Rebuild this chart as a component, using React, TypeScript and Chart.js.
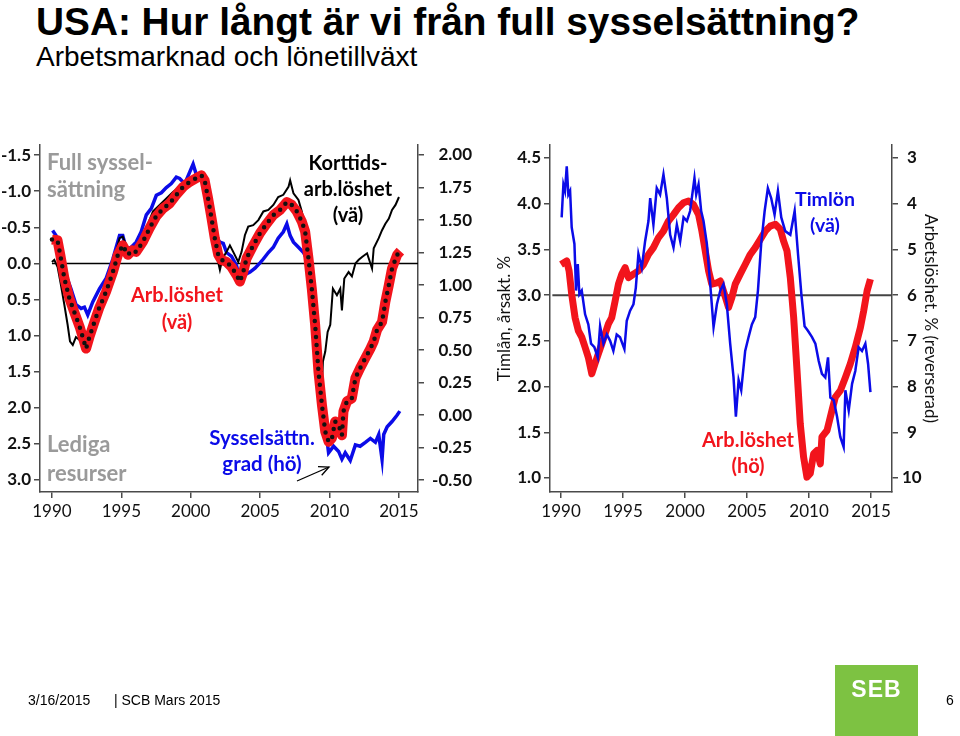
import React, { useEffect, useRef } from "react";
import { Chart, registerables } from "chart.js";

Chart.register(...registerables);

// ---------------- Left panel data ----------------
const gapYears = [1990.0, 1990.4, 1990.6, 1990.9, 1991.25, 1991.6, 1992.0, 1992.46, 1992.7, 1993.06, 1993.4, 1993.9, 1994.39, 1994.75, 1995.1, 1995.47, 1995.8, 1996.07, 1996.55, 1997.04, 1997.5, 1998.0, 1998.48, 1998.96, 1999.45, 1999.93, 2000.4, 2000.77, 2001.0, 2001.25, 2001.5, 2001.73, 2001.98, 2002.2, 2002.58, 2002.94, 2003.3, 2003.54, 2003.78, 2004.02, 2004.5, 2004.99, 2005.47, 2005.95, 2006.43, 2006.92, 2007.28, 2007.64, 2008.0, 2008.24, 2008.48, 2008.72, 2008.96, 2009.2, 2009.45, 2009.69, 2009.93, 2010.17, 2010.4, 2010.65, 2010.89, 2011.0, 2011.25, 2011.6, 2011.86, 2012.2, 2012.58, 2012.94, 2013.18, 2013.42, 2013.78, 2014.02, 2014.27, 2014.5, 2014.87, 2015.1];
const gapValues = [-0.33, -0.32, -0.12, 0.21, 0.48, 0.67, 0.88, 1.18, 1.02, 0.81, 0.62, 0.39, 0.12, -0.12, -0.25, -0.12, -0.18, -0.16, -0.30, -0.49, -0.65, -0.76, -0.83, -0.95, -1.06, -1.13, -1.18, -1.22, -1.15, -0.90, -0.62, -0.35, -0.12, -0.05, -0.02, 0.05, 0.16, 0.25, 0.12, -0.07, -0.25, -0.42, -0.55, -0.67, -0.74, -0.85, -0.81, -0.72, -0.58, -0.44, -0.07, 0.35, 0.85, 1.50, 1.96, 2.33, 2.47, 2.42, 2.19, 2.24, 2.38, 2.05, 1.91, 1.87, 1.59, 1.45, 1.31, 1.18, 1.08, 0.92, 0.81, 0.53, 0.30, 0.07, -0.12, -0.17];

const shortYears = [1990.0, 1990.17, 1990.41, 1990.65, 1990.9, 1991.13, 1991.3, 1991.5, 1991.73, 1991.98, 1992.34, 1992.58, 1992.94, 1993.3, 1993.66, 1994.14, 1994.5, 1994.87, 1995.1, 1995.35, 1995.71, 1996.07, 1996.43, 1996.8, 1997.28, 1997.76, 1998.24, 1998.72, 1999.2, 1999.69, 2000.17, 2000.65, 2001.0, 2001.25, 2001.61, 2001.86, 2002.1, 2002.29, 2002.58, 2002.82, 2003.06, 2003.42, 2003.66, 2003.9, 2004.14, 2004.5, 2004.87, 2005.23, 2005.59, 2005.95, 2006.3, 2006.67, 2007.04, 2007.16, 2007.4, 2007.76, 2008.0, 2008.24, 2008.48, 2008.72, 2008.96, 2009.2, 2009.4, 2009.52, 2009.69, 2009.86, 2010.05, 2010.24, 2010.53, 2010.77, 2010.89, 2011.06, 2011.37, 2011.61, 2011.86, 2012.1, 2012.34, 2012.7, 2013.06, 2013.18, 2013.54, 2013.78, 2014.02, 2014.27, 2014.5, 2014.75, 2015.0];
const shortValues = [-0.02, -0.05, 0.05, 0.30, 0.58, 0.85, 1.08, 1.13, 1.02, 1.06, 1.08, 1.04, 0.81, 0.65, 0.44, 0.18, -0.07, -0.35, -0.37, -0.25, -0.16, -0.21, -0.35, -0.49, -0.72, -0.81, -0.90, -0.99, -1.06, -1.13, -1.18, -1.22, -1.18, -0.90, -0.49, -0.12, 0.09, -0.07, -0.16, -0.25, -0.16, -0.02, -0.16, -0.39, -0.51, -0.53, -0.60, -0.72, -0.74, -0.81, -0.92, -0.95, -1.06, -1.15, -0.97, -0.88, -0.72, -0.49, -0.16, 0.35, 0.95, 1.50, 1.92, 1.36, 1.22, 0.95, 0.85, 0.35, 0.44, 0.35, 0.65, 0.21, 0.12, 0.18, 0.00, -0.05, -0.09, -0.14, 0.07, -0.21, -0.35, -0.46, -0.55, -0.62, -0.74, -0.81, -0.92];

const empYears = [1990.05, 1990.3, 1990.65, 1991.0, 1991.37, 1991.73, 1992.1, 1992.34, 1992.58, 1992.94, 1993.42, 1993.9, 1994.39, 1994.87, 1995.1, 1995.35, 1995.71, 1996.07, 1996.43, 1996.8, 1997.16, 1997.52, 1997.88, 1998.24, 1998.6, 1998.96, 1999.2, 1999.57, 1999.93, 2000.17, 2000.4, 2000.77, 2001.13, 2001.37, 2001.61, 2001.86, 2002.1, 2002.34, 2002.58, 2002.94, 2003.3, 2003.54, 2003.9, 2004.27, 2004.63, 2004.99, 2005.23, 2005.59, 2005.95, 2006.3, 2006.67, 2006.92, 2007.16, 2007.4, 2007.76, 2008.12, 2008.36, 2008.72, 2009.08, 2009.45, 2009.8, 2009.93, 2010.29, 2010.65, 2010.89, 2011.13, 2011.49, 2011.86, 2012.2, 2012.58, 2012.94, 2013.3, 2013.54, 2013.78, 2013.9, 2014.15, 2014.5, 2014.87, 2015.06];
const empValues = [1.42, 1.38, 1.23, 1.08, 0.97, 0.85, 0.82, 0.83, 0.77, 0.87, 0.97, 1.05, 1.20, 1.38, 1.38, 1.28, 1.29, 1.33, 1.41, 1.54, 1.59, 1.69, 1.71, 1.75, 1.78, 1.83, 1.82, 1.78, 1.87, 1.93, 1.85, 1.84, 1.79, 1.64, 1.48, 1.36, 1.33, 1.32, 1.25, 1.22, 1.15, 1.04, 1.08, 1.10, 1.13, 1.17, 1.20, 1.25, 1.29, 1.36, 1.41, 1.47, 1.38, 1.33, 1.29, 1.25, 1.20, 0.97, 0.54, 0.13, -0.18, -0.29, -0.24, -0.28, -0.34, -0.29, -0.35, -0.23, -0.24, -0.21, -0.18, -0.21, -0.15, -0.34, -0.15, -0.09, -0.05, 0.00, 0.03];

const zeroLineYears = [1990, 2016.37];
const zeroLineValues = [0, 0];

const leftTicksL = [-1.5, -1.0, -0.5, 0, 0.5, 1.0, 1.5, 2.0, 2.5, 3.0];
const leftTicksR = [2.0, 1.75, 1.5, 1.25, 1.0, 0.75, 0.5, 0.25, 0, -0.25, -0.5];
const yearTicks = [1990, 1995, 2000, 2005, 2010, 2015];

// ---------------- Right panel data ----------------
const wageYears = [1990.05, 1990.19, 1990.32, 1990.46, 1990.59, 1990.73, 1990.86, 1991.08, 1991.21, 1991.35, 1991.48, 1991.67, 1991.94, 1992.2, 1992.42, 1992.69, 1992.96, 1993.15, 1993.42, 1993.69, 1993.96, 1994.22, 1994.49, 1994.76, 1995.11, 1995.3, 1995.57, 1995.84, 1996.03, 1996.24, 1996.51, 1996.78, 1997.05, 1997.19, 1997.45, 1997.72, 1997.99, 1998.26, 1998.53, 1998.8, 1999.07, 1999.34, 1999.61, 1999.88, 2000.15, 2000.41, 2000.76, 2000.9, 2001.09, 2001.3, 2001.49, 2001.76, 2002.03, 2002.3, 2002.57, 2002.84, 2003.1, 2003.37, 2003.64, 2003.91, 2004.1, 2004.32, 2004.53, 2004.85, 2005.12, 2005.39, 2005.66, 2005.88, 2006.14, 2006.42, 2006.68, 2006.95, 2007.22, 2007.49, 2007.76, 2008.08, 2008.49, 2008.84, 2009.11, 2009.38, 2009.64, 2009.91, 2010.24, 2010.51, 2010.78, 2011.04, 2011.31, 2011.53, 2011.72, 2011.99, 2012.26, 2012.52, 2012.79, 2012.93, 2013.2, 2013.47, 2013.73, 2014.0, 2014.27, 2014.54, 2014.76, 2014.95];
const wageValues = [3.85, 4.21, 4.14, 4.41, 4.10, 4.14, 3.74, 3.56, 3.05, 3.34, 3.01, 3.05, 2.79, 2.68, 2.47, 2.43, 2.32, 2.66, 2.47, 2.57, 2.50, 2.39, 2.57, 2.54, 2.41, 2.72, 2.83, 2.90, 3.08, 3.45, 3.30, 3.59, 3.81, 4.06, 3.77, 4.17, 4.10, 4.32, 4.06, 3.66, 3.52, 3.77, 3.59, 3.85, 3.81, 3.92, 4.28, 4.10, 4.21, 3.92, 3.81, 3.56, 3.12, 2.65, 2.90, 3.05, 3.12, 2.90, 2.47, 2.10, 1.67, 2.07, 1.96, 2.39, 2.54, 2.68, 2.76, 3.05, 3.56, 3.92, 4.17, 4.06, 3.88, 4.14, 3.85, 3.70, 3.66, 3.92, 3.45, 3.01, 2.66, 2.61, 2.54, 2.47, 2.28, 2.14, 2.10, 2.32, 1.88, 1.85, 1.67, 1.45, 1.34, 1.96, 1.74, 2.03, 2.17, 2.43, 2.39, 2.47, 2.25, 1.94];

const unempYears = [1990.0, 1990.46, 1990.65, 1990.86, 1991.13, 1991.4, 1991.67, 1991.94, 1992.2, 1992.48, 1992.74, 1993.0, 1993.28, 1993.55, 1993.82, 1994.09, 1994.36, 1994.63, 1994.9, 1995.17, 1995.44, 1995.84, 1996.24, 1996.65, 1997.05, 1997.45, 1997.86, 1998.26, 1998.66, 1999.07, 1999.47, 1999.88, 2000.28, 2000.68, 2001.09, 2001.36, 2001.63, 2001.9, 2002.16, 2002.57, 2002.84, 2003.1, 2003.51, 2003.78, 2004.05, 2004.45, 2004.85, 2005.26, 2005.66, 2006.07, 2006.47, 2006.87, 2007.28, 2007.68, 2007.95, 2008.22, 2008.49, 2008.76, 2009.03, 2009.29, 2009.56, 2009.83, 2010.1, 2010.37, 2010.64, 2010.91, 2011.04, 2011.45, 2011.85, 2012.12, 2012.52, 2012.93, 2013.33, 2013.73, 2014.14, 2014.41, 2014.68, 2014.95];
const unempValues = [5.33, 5.25, 5.47, 5.98, 6.49, 6.78, 6.92, 7.14, 7.36, 7.72, 7.50, 7.29, 7.07, 6.85, 6.63, 6.49, 6.13, 5.76, 5.54, 5.40, 5.62, 5.54, 5.47, 5.33, 5.11, 4.96, 4.74, 4.60, 4.38, 4.24, 4.09, 3.98, 3.94, 4.02, 4.24, 4.60, 5.03, 5.47, 5.76, 5.73, 5.69, 5.91, 6.27, 6.05, 5.76, 5.54, 5.33, 5.11, 4.96, 4.78, 4.60, 4.49, 4.45, 4.56, 4.82, 5.03, 5.62, 6.49, 7.65, 8.81, 9.54, 9.98, 9.90, 9.47, 9.40, 9.69, 9.10, 8.96, 8.52, 8.23, 8.09, 7.80, 7.50, 7.14, 6.71, 6.34, 5.91, 5.65];

const refLineYears = [1989.3, 2016.69];
const refLineValues = [3, 3];

const rightTicksL = [1.0, 1.5, 2.0, 2.5, 3.0, 3.5, 4.0, 4.5];
const rightTicksR = [3, 4, 5, 6, 7, 8, 9, 10];

// ---------------- styles ----------------
const RED = "#f2141c";
const BLUE = "#0b0be8";
const AXIS = "#4a4a4a";
const GRAY = "#9a9a9a";
const FONT = "Lato, 'Open Sans', sans-serif";

const pts = (xs: number[], ys: number[]) => xs.map((x, i) => ({ x, y: ys[i] }));
const setTicks = (vals: number[]) => (scale: any) => {
  scale.ticks = vals.map((v) => ({ value: v }));
};

function xAxis(min: number, max: number) {
  return {
    type: "linear",
    position: "bottom",
    min,
    max,
    bounds: "data",
    afterBuildTicks: setTicks(yearTicks),
    afterFit: (s: any) => {
      s.height = 38;
    },
    ticks: {
      autoSkip: false,
      maxRotation: 0,
      padding: 3,
      color: "#111",
      font: { family: FONT, size: 17 },
      callback: (v: any) => String(v),
    },
    grid: { drawOnChartArea: false, drawTicks: true, tickLength: 6, color: AXIS, lineWidth: 1.5 },
    border: { display: true, color: AXIS, width: 1.5 },
  };
}

function yAxis(opts: any) {
  const { position, min, max, reverse, ticks, digits, width, pad, crossAlign, title } = opts;
  return {
    type: "linear",
    position,
    min,
    max,
    reverse,
    bounds: "data",
    afterBuildTicks: setTicks(ticks),
    afterFit: (s: any) => {
      s.width = width;
    },
    ticks: {
      autoSkip: false,
      padding: pad,
      crossAlign: crossAlign || "near",
      color: "#111",
      font: { family: FONT, size: 17, weight: "bold" },
      callback: (v: any) => Number(v).toFixed(digits),
    },
    grid: { drawOnChartArea: false, drawTicks: true, tickLength: 6, color: AXIS, lineWidth: 1.5 },
    border: { display: true, color: AXIS, width: 1.5 },
    title: title || { display: false },
  };
}

const baseLine = { pointRadius: 0, tension: 0, fill: false };

function leftConfig(): any {
  return {
    type: "line",
    data: {
      datasets: [
        { ...baseLine, label: "dots", data: pts(gapYears, gapValues), yAxisID: "y", borderColor: "#111", borderWidth: 4.5, borderDash: [0, 8], borderCapStyle: "round", order: 0 },
        { ...baseLine, label: "Arb.löshet", data: pts(gapYears, gapValues), yAxisID: "y", borderColor: RED, borderWidth: 10, borderJoinStyle: "round", order: 1 },
        { ...baseLine, label: "Korttidsarb.löshet", data: pts(shortYears, shortValues), yAxisID: "y", borderColor: "#000", borderWidth: 2, order: 2 },
        { ...baseLine, label: "Sysselsättningsgrad", data: pts(empYears, empValues), yAxisID: "y2", borderColor: BLUE, borderWidth: 3.5, order: 3 },
        { ...baseLine, label: "zero", data: pts(zeroLineYears, zeroLineValues), yAxisID: "y", borderColor: "#000", borderWidth: 1.5, order: 4 },
      ],
    },
    options: {
      animation: false,
      responsive: false,
      maintainAspectRatio: false,
      layout: { padding: { top: 15, left: 0, right: 0, bottom: 0 } },
      plugins: { legend: { display: false }, tooltip: { enabled: false } },
      scales: {
        x: xAxis(1989.14, 2016.37),
        y: yAxis({ position: "left", min: -1.64, max: 3.166, reverse: true, ticks: leftTicksL, digits: 1, width: 40, pad: 3 }),
        y2: yAxis({ position: "right", min: -0.592, max: 2.077, reverse: false, ticks: leftTicksR, digits: 2, width: 54, pad: 2, crossAlign: "far" }),
      },
    },
  };
}

function rightConfig(): any {
  return {
    type: "line",
    data: {
      datasets: [
        { ...baseLine, label: "Timlön", data: pts(wageYears, wageValues), yAxisID: "y", borderColor: BLUE, borderWidth: 2.5, order: 0 },
        { ...baseLine, label: "Arb.löshet", data: pts(unempYears, unempValues), yAxisID: "y2", borderColor: RED, borderWidth: 7, borderJoinStyle: "round", order: 1 },
        { ...baseLine, label: "ref", data: pts(refLineYears, refLineValues), yAxisID: "y", borderColor: "#444", borderWidth: 2, order: 2 },
      ],
    },
    options: {
      animation: false,
      responsive: false,
      maintainAspectRatio: false,
      layout: { padding: { top: 15, left: 0, right: 0, bottom: 0 } },
      plugins: { legend: { display: false }, tooltip: { enabled: false } },
      scales: {
        x: xAxis(1989.11, 2016.69),
        y: yAxis({
          position: "left", min: 0.847, max: 4.642, reverse: false, ticks: rightTicksL, digits: 1, width: 60, pad: 3,
          title: { display: true, text: "Timlån, årsakt. %", color: "#111", font: { family: FONT, size: 17 }, padding: { top: 4, bottom: 0 } },
        }),
        y2: yAxis({
          position: "right", min: 2.716, max: 10.306, reverse: true, ticks: rightTicksR, digits: 0, width: 68, pad: 4, crossAlign: "center",
          title: { display: true, text: "Arbetslöshet. % (reverserad)", color: "#111", font: { family: FONT, size: 17 }, padding: { top: 19, bottom: 0 } },
        }),
      },
    },
  };
}

function ChartCanvas({ make, left, top, width, height }: any) {
  const ref = useRef<HTMLCanvasElement | null>(null);
  useEffect(() => {
    if (!ref.current) return;
    const chart = new Chart(ref.current, make());
    return () => chart.destroy();
  }, []);
  return (
    <canvas
      ref={ref}
      width={width}
      height={height}
      style={{ position: "absolute", left, top, width, height }}
    />
  );
}

function Note({ lines, left, cx, baseline, lh = 27, size = 22, color }: any) {
  const top = baseline - ((lh - 1.2 * size) / 2 + 0.987 * size);
  const style: any = {
    position: "absolute",
    top,
    fontFamily: FONT,
    fontWeight: 700,
    fontSize: size,
    lineHeight: `${lh}px`,
    color,
    whiteSpace: "nowrap",
  };
  if (cx !== undefined) {
    style.left = cx - 100;
    style.width = 200;
    style.textAlign = "center";
  } else {
    style.left = left;
  }
  return (
    <div style={style}>
      {lines.map((l: string, i: number) => (
        <div key={i}>{l}</div>
      ))}
    </div>
  );
}

export default function App() {
  return (
    <div
      style={{
        position: "fixed",
        left: 0,
        top: 0,
        width: 960,
        height: 736,
        background: "#fff",
        overflow: "hidden",
        fontFamily: "'Liberation Sans', Arial, sans-serif",
      }}
    >
      <div style={{ position: "absolute", left: 36, top: 3, fontSize: 38.8, lineHeight: "38px", fontWeight: 700, color: "#000", whiteSpace: "nowrap" }}>
        USA: Hur långt är vi från full sysselsättning?
      </div>
      <div style={{ position: "absolute", left: 36, top: 43, fontSize: 28, lineHeight: "28px", color: "#000", whiteSpace: "nowrap" }}>
        Arbetsmarknad och lönetillväxt
      </div>

      <ChartCanvas make={leftConfig} left={0} top={130} width={472} height={400} />
      <ChartCanvas make={rightConfig} left={490} top={130} width={470} height={400} />

      <Note lines={["Full syssel-", "sättning"]} left={47} baseline={170} lh={27} size={22} color={GRAY} />
      <Note lines={["Lediga", "resurser"]} left={47} baseline={452} lh={29} size={22} color={GRAY} />
      <Note lines={["Arb.löshet", "(vä)"]} cx={177} baseline={302} lh={27} size={20} color={RED} />
      <Note lines={["Korttids-", "arb.löshet", "(vä)"]} cx={348} baseline={170} lh={26} size={20} color="#000" />
      <Note lines={["Sysselsättn.", "grad (hö)"]} cx={262} baseline={445} lh={26} size={20.5} color={BLUE} />
      <Note lines={["Timlön", "(vä)"]} cx={825} baseline={207} lh={26} size={19.5} color={BLUE} />
      <Note lines={["Arb.löshet", "(hö)"]} cx={748} baseline={447} lh={26} size={20} color={RED} />

      <svg width={960} height={736} style={{ position: "absolute", left: 0, top: 0, pointerEvents: "none" }}>
        <line x1={297} y1={481} x2={329} y2={467} stroke="#000" strokeWidth={1.3} />
        <polyline points="318,466.7 329,467 321.7,475.3" fill="none" stroke="#000" strokeWidth={1.3} />
      </svg>

      <div style={{ position: "absolute", left: 28, top: 691, fontSize: 14, lineHeight: "18px", color: "#000", whiteSpace: "nowrap" }}>
        3/16/2015
      </div>
      <div style={{ position: "absolute", left: 114, top: 691, fontSize: 14, lineHeight: "18px", color: "#000", whiteSpace: "nowrap" }}>
        | SCB Mars 2015
      </div>
      <div style={{ position: "absolute", left: 835, top: 665, width: 83, height: 71, background: "#7dc242" }}>
        <div style={{ position: "absolute", left: 0, top: 12, width: 83, textAlign: "center", color: "#fff", fontWeight: 700, fontSize: 23, lineHeight: "24px", letterSpacing: 1 }}>
          SEB
        </div>
      </div>
      <div style={{ position: "absolute", left: 946, top: 691, fontSize: 14, lineHeight: "18px", color: "#000" }}>6</div>
    </div>
  );
}
